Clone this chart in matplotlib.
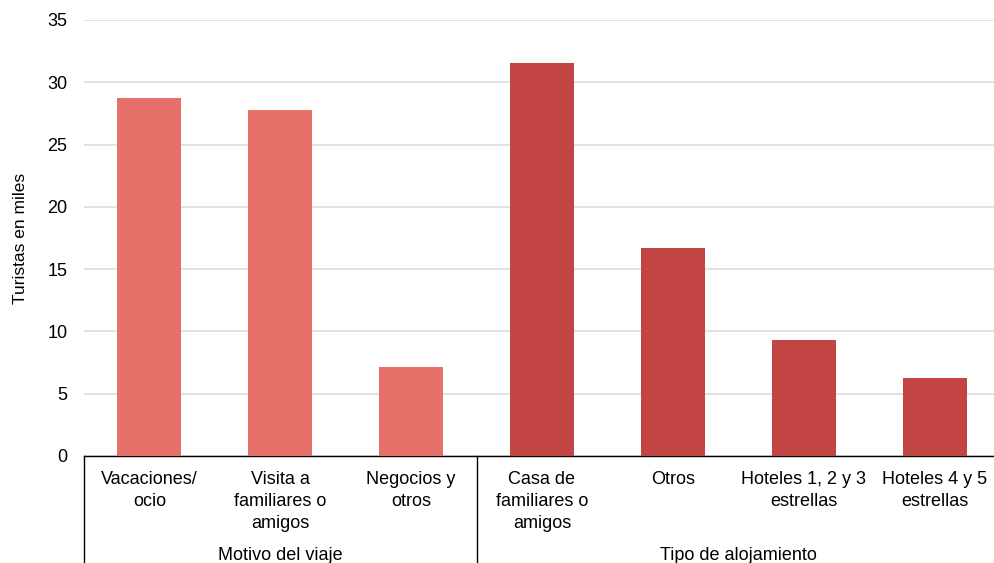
import matplotlib
matplotlib.use('Agg')
import matplotlib.pyplot as plt
from matplotlib.transforms import blended_transform_factory

## data
categories = ['Vacaciones/\nocio', 'Visita a\nfamiliares o\namigos', 'Negocios y\notros',
              'Casa de\nfamiliares o\namigos', 'Otros', 'Hoteles 1, 2 y 3\nestrellas',
              'Hoteles 4 y 5\nestrellas']
values = [28.75, 27.8, 7.15, 31.55, 16.7, 9.3, 6.25]
groups = ['Motivo del viaje', 'Tipo de alojamiento']
group_sizes = [3, 4]
y_ticks = [0, 5, 10, 15, 20, 25, 30, 35]

group_colors = ['#E8706B', '#C24443']

plt.rcParams['font.family'] = ['Liberation Sans', 'DejaVu Sans']

fig = plt.figure(figsize=[9.95, 5.63], dpi=100)
ax = fig.add_axes([84 / 995, (563 - 456) / 563, 916 / 995, 436 / 563])

colors = []
for c, n in zip(group_colors, group_sizes):
    colors += [c] * n
x = list(range(len(categories)))
ax.bar(x, values, width=0.49, color=colors, zorder=3)

ax.set_xlim(-0.5, len(categories) - 0.5)
ax.set_ylim(0, 35)
ax.set_yticks(y_ticks)
ax.yaxis.grid(True, color='#DDDDDD', linewidth=1.2, zorder=0)
ax.tick_params(axis='y', length=0, labelsize=13, pad=12)
ax.set_xticks([])
for s in ['top', 'right', 'left']:
    ax.spines[s].set_visible(False)
ax.spines['bottom'].set_color('black')
ax.spines['bottom'].set_linewidth(1)
ax.set_ylabel('Turistas en miles', fontsize=12.5, labelpad=14)

trans = blended_transform_factory(ax.transData, ax.transAxes)
px = 1 / 436  # axes fraction per pixel vertically

# category labels
for xi, lab in zip(x, categories):
    ax.text(xi, -15 * px, lab, transform=trans, ha='center', va='top',
            fontsize=13, linespacing=1.38)

# group separators and labels
start = 0
for g, n in zip(groups, group_sizes):
    ax.plot([start - 0.5, start - 0.5], [0, -110 * px], transform=trans,
            color='black', linewidth=1, clip_on=False)
    ax.text(start + (n - 1) / 2, -100 * px, g, transform=trans, ha='center',
            va='center', fontsize=13)
    start += n
ax.plot([start - 0.5, start - 0.5], [0, -110 * px], transform=trans,
        color='black', linewidth=1, clip_on=False)

plt.savefig('out.png', dpi=100)
